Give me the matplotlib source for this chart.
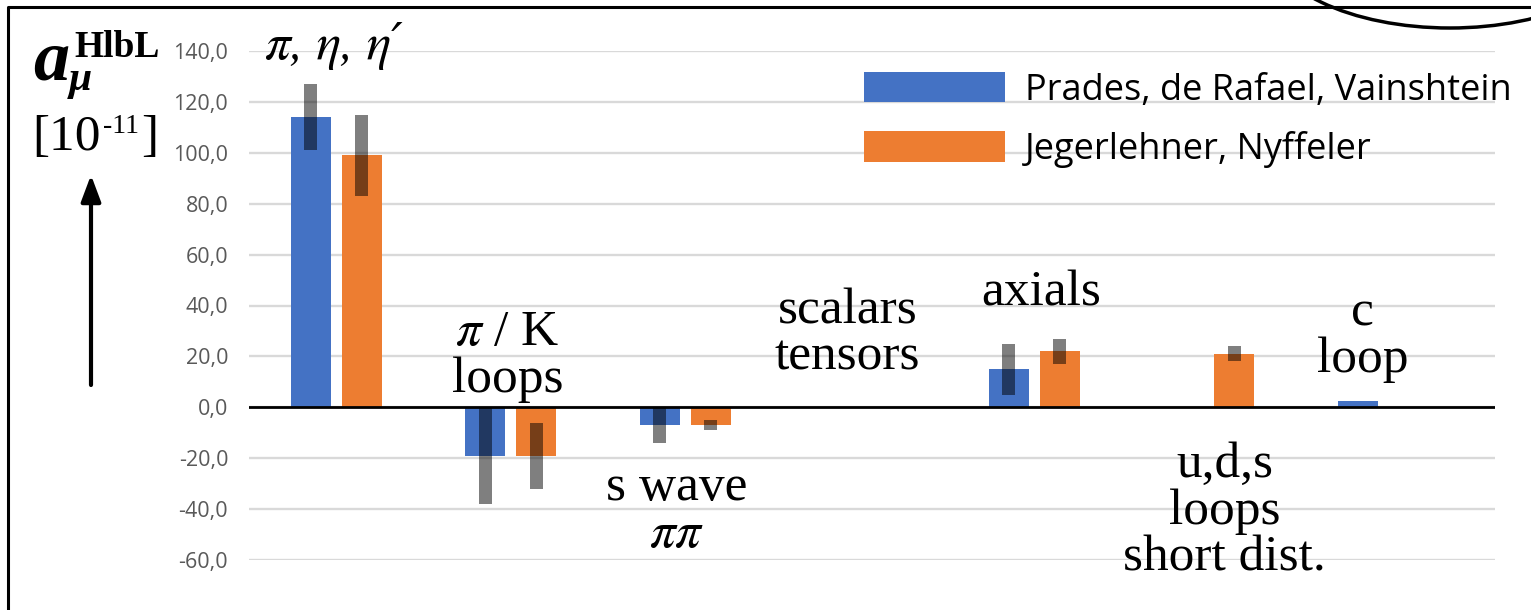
import numpy as np
import matplotlib
matplotlib.use("Agg")
import matplotlib.pyplot as plt
from matplotlib.lines import Line2D
from matplotlib.patches import Ellipse, FancyArrowPatch
from matplotlib.ticker import FuncFormatter

plt.rcParams['mathtext.fontset'] = 'stix'

# contributions to a_mu (HLbL), units of 1e-11
categories = ['π, η, η′', '$\\pi$ / K\nloops', 's wave\n$\\pi\\pi$',
              'scalars\ntensors', 'axials', 'u,d,s\nloops\nshort dist.', 'c\nloop']
series = ['Prades, de Rafael, Vainshtein', 'Jegerlehner, Nyffeler']
prv = [114, -19, -7, np.nan, 15, np.nan, 2.3]
prv_err = [13, 19, 7, np.nan, 10, np.nan, np.nan]
jn = [99, -19, -7, np.nan, 22, 21, np.nan]
jn_err = [16, 13, 2, np.nan, 5, 3, np.nan]
yticks = [-60, -40, -20, 0, 20, 40, 60, 80, 100, 120, 140]

W, H = 1531, 610
fig = plt.figure(figsize=(W / 100, H / 100), dpi=100)
fig.patch.set_facecolor('white')


def px(x, y):
    return x / W, 1 - y / H


ax = fig.add_axes([249 / W, 50 / H, 1246 / W, 509 / H])
x = np.arange(len(categories))
bw = 0.229
off = 0.146
colors = ['#4472C4', '#ED7D31']

for vals, errs, dx, col, name in [(prv, prv_err, -off, colors[0], series[0]),
                                  (jn, jn_err, off, colors[1], series[1])]:
    v = np.array(vals, float)
    e = np.array(errs, float)
    ok = ~np.isnan(v)
    ax.bar(x[ok] + dx, v[ok], width=bw, color=col, label=name, zorder=2)
    ok = ~np.isnan(e)
    # uncertainty drawn as a translucent dark band
    ax.bar(x[ok] + dx, 2 * e[ok], bottom=v[ok] - e[ok], width=0.075,
           color='black', alpha=0.5, zorder=3, linewidth=0)

ax.axhline(0, color='black', lw=2.0, zorder=4)
ax.set_ylim(-60, 140)
ax.set_xlim(-0.5, -0.5 + 1246 / 174.5)
ax.set_yticks(yticks)
ax.yaxis.set_major_formatter(FuncFormatter(lambda v, p: f'{v:.1f}'.replace('.', ',')))
ax.grid(axis='y', color='#d9d9d9', lw=1.7, zorder=0)
ax.set_axisbelow(True)
ax.set_xticks([])
for s in ax.spines.values():
    s.set_visible(False)
ax.tick_params(axis='y', length=0, pad=15, labelsize=15.5, labelcolor='#595959')
for t in ax.get_yticklabels():
    t.set_fontfamily('Open Sans')

# category labels written inside the plot
label_pos = [(-0.41, 137, 'left'), (0.98, 24.4, 'center'), (1.95, -36.5, 'center'),
             (2.93, 33, 'center'), (4.04, 40, 'center'), (5.09, -27.5, 'center'),
             (5.88, 32, 'center')]
line_step = 18.3
for k, (lab, (lx, ly, ha)) in enumerate(zip(categories, label_pos)):
    kw = dict(family='Liberation Serif')
    if k == 0:
        kw = dict(family=['STIXGeneral', 'DejaVu Serif'], style='italic')
    for i, line in enumerate(lab.split('\n')):
        ax.text(lx, ly - i * line_step, line, ha=ha, va='baseline',
                fontsize=37, zorder=5, **kw)

ax.legend(loc='upper left', bbox_to_anchor=px(864, 72), bbox_transform=fig.transFigure,
          frameon=False, prop={'family': 'Open Sans', 'size': 26},
          handlelength=3.9, handleheight=0.91, labelspacing=0.62, handletextpad=0.55,
          borderpad=0, borderaxespad=0)

# y-axis title
serif = 'Liberation Serif'
fig.text(*px(33, 80), 'a', fontsize=52, family=serif, weight='bold', style='italic', va='baseline')
fig.text(*px(69, 90), 'μ', fontsize=30, family=serif, weight='bold', style='italic', va='baseline')
fig.text(*px(74, 57), 'HlbL', fontsize=27, family=serif, weight='bold', va='baseline')
fig.text(*px(32, 150), '[10', fontsize=37, family=serif, va='baseline')
fig.text(*px(103, 133), '-11', fontsize=20, family=serif, va='baseline')
fig.text(*px(141, 150), ']', fontsize=37, family=serif, va='baseline')
fig.add_artist(FancyArrowPatch(px(91, 385), px(91, 175), transform=fig.transFigure,
                               arrowstyle='-|>,head_length=16,head_width=6',
                               mutation_scale=1, lw=3, color='black',
                               shrinkA=0, shrinkB=0))

# outer frame and the arc at the top right
fig.add_artist(Line2D([8 / W, 8 / W, 1.01], [-0.05, 1 - 7 / H, 1 - 7 / H],
                      transform=fig.transFigure, color='black', lw=2.2))
fig.add_artist(Ellipse(px(1450, -60), 364 / W, 176 / H, transform=fig.transFigure,
                       fill=False, edgecolor='black', lw=2.5))

fig.savefig('out.png', dpi=100)
